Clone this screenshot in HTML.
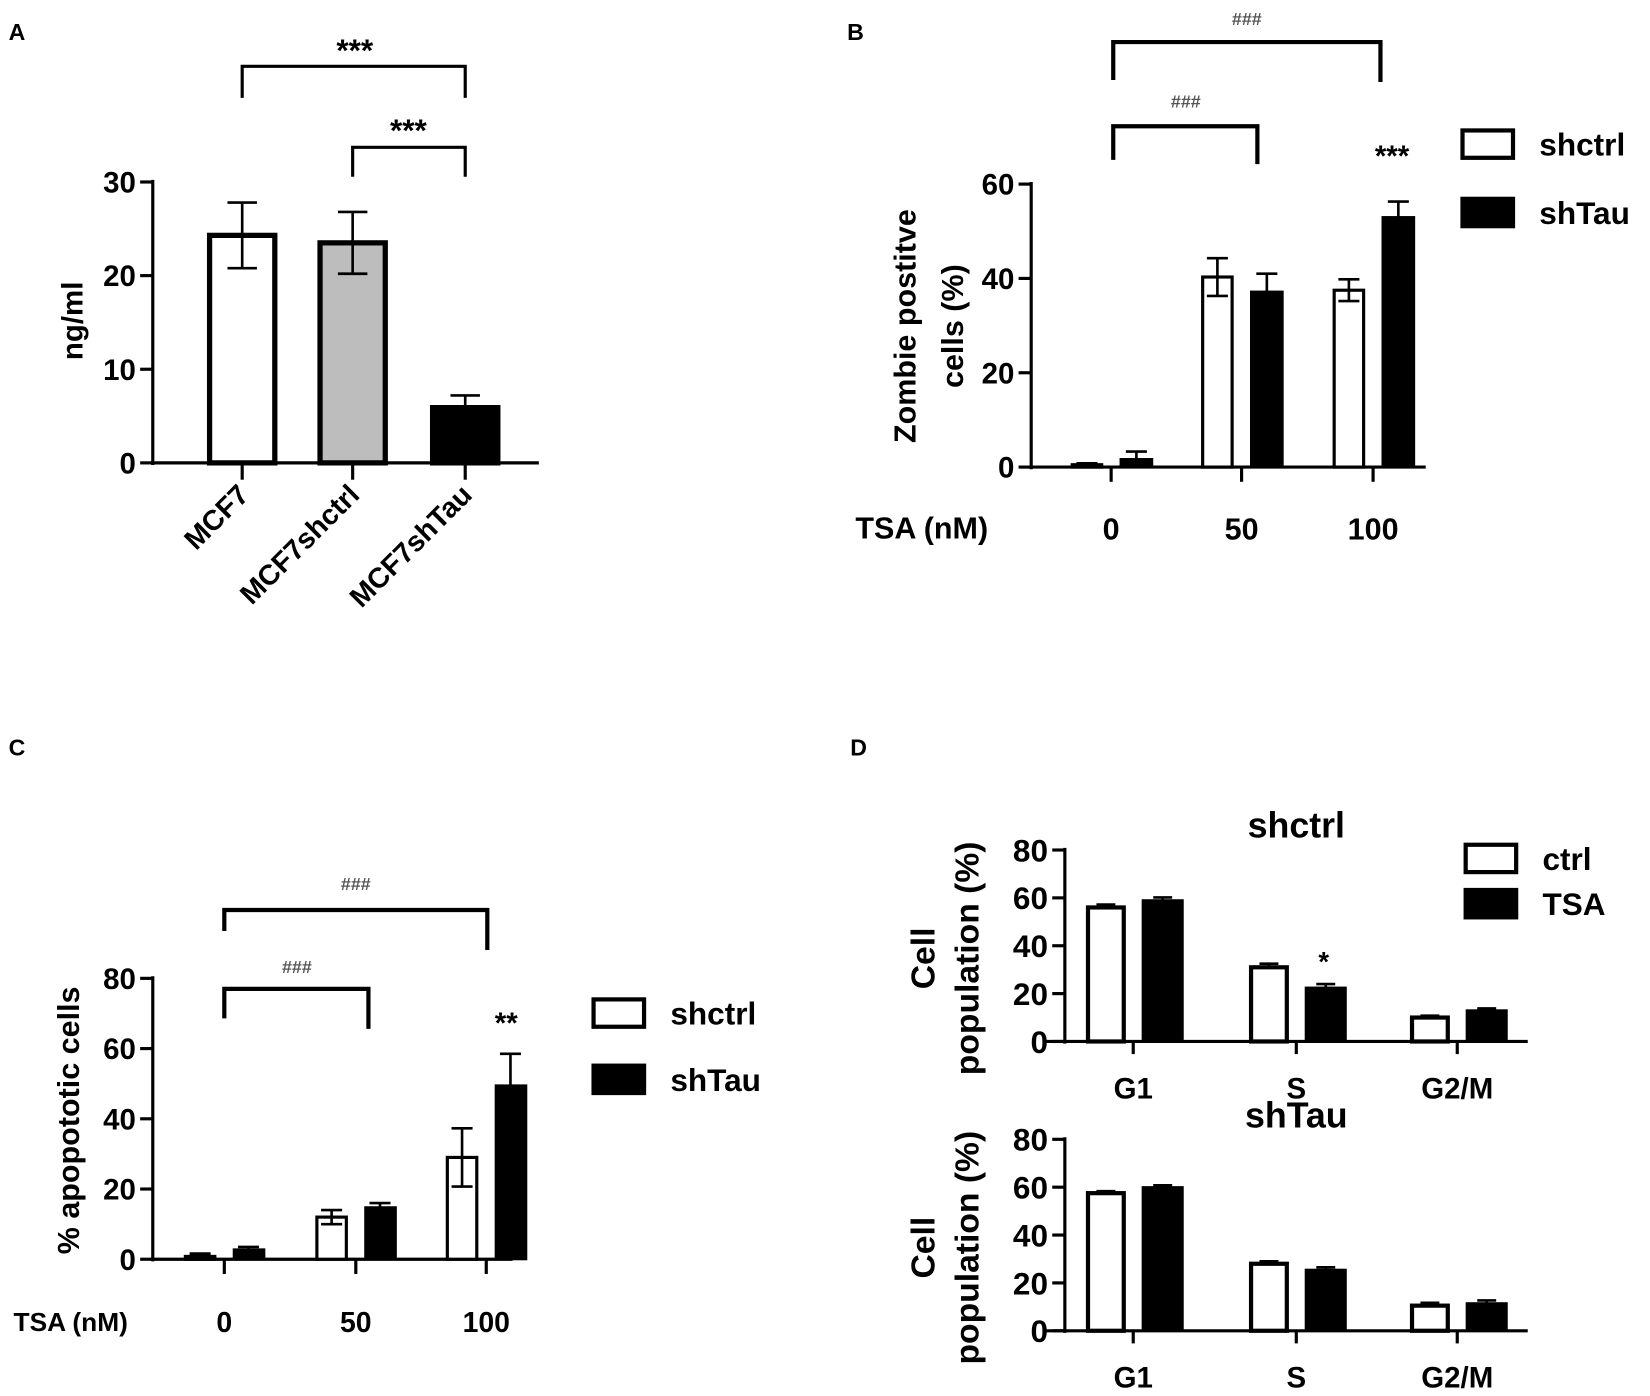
<!DOCTYPE html>
<html><head><meta charset="utf-8"><style>
html,body{margin:0;padding:0;background:#fff;}
svg{display:block;font-family:"Liberation Sans",Arial,sans-serif;font-weight:bold;}
</style></head><body>
<svg id="fig" width="1650" height="1396" viewBox="0 0 1568 1327" xmlns="http://www.w3.org/2000/svg">
<g font-size="22"><text x="8" y="38">A</text><text x="805" y="38">B</text><text x="8" y="718">C</text><text x="808" y="718">D</text></g>
</svg>
<script>
// Panel A
const aCats=['MCF7','MCF7shctrl','MCF7shTau'];
const aVals=[24.3,23.5,5.9];
const aErr=[3.5,3.3,1.3];
const aTicks=[0,10,20,30];
// Panel B
const bCats=['0','50','100'];
const bShctrl=[0.5,40.3,37.5];
const bShctrlErr=[0.3,4,2.3];
const bShTau=[1.7,37.2,53];
const bShTauErr=[1.6,3.8,3.3];
const bTicks=[0,20,40,60];
// Panel C
const cCats=['0','50','100'];
const cShctrl=[0.8,12,29];
const cShctrlErr=[0.8,2,8.3];
const cShTau=[2.8,14.8,49.5];
const cShTauErr=[0.7,1.2,9];
const cTicks=[0,20,40,60,80];
// Panel D
const dCats=['G1','S','G2/M'];
const dTopCtrl=[56,31,10];
const dTopTSA=[59,22.5,13];
const dTopErr=[1.2,1.5,0.8];
const dBotCtrl=[57.5,28,10.5];
const dBotTSA=[60,25.5,11.5];
const dBotErr=[0.8,1,1.2];
const dTicks=[0,20,40,60,80];

const NS='http://www.w3.org/2000/svg';
const svg=document.getElementById('fig');
function mk(tag,at,parent){const e=document.createElementNS(NS,tag);for(const k in at)e.setAttribute(k,at[k]);(parent||svg).appendChild(e);return e;}
function txt(x,y,s,size,anchor,name,extra){const t=mk('text',Object.assign({x:x,y:y,'font-size':size,'text-anchor':anchor||'middle'},extra||{}));t.textContent=s;


return t;}
function line(x1,y1,x2,y2,w,name){const l=mk('line',{x1,y1,x2,y2,stroke:'#000','stroke-width':w});


return l;}
function axes(x0,x1,y0,yTop,ticks,maxV,fs,prefix,tickXs,tickLen,xStart){
  const sy=v=>y0-(v/maxV)*(y0-yTop);
  line(x0,yTop-2,x0,y0+2,3,prefix+'-y-axis');
  line(xStart!==undefined?xStart:x0-2,y0,x1,y0,3,prefix+'-x-axis');
  ticks.forEach(t=>{line(x0-12,sy(t),x0,sy(t),3,prefix+'-y-tick');txt(x0-16,sy(t)+fs*0.36,String(t),fs,'end',prefix+'-y-tick-label');});
  tickXs.forEach(x=>line(x,y0,x,y0+tickLen,3,prefix+'-x-tick'));
  return sy;
}
function bar(x,w,v,sy,y0,fill,bw,name){const r=mk('rect',{x:x,y:sy(v),width:w,height:y0-sy(v),fill:fill,stroke:'#000','stroke-width':bw});

}
function err(cx,v,e,sy,cap,both,name){
  line(cx,sy(v+e),cx,both?sy(v-e):sy(v),2.5,name);
  line(cx-cap,sy(v+e),cx+cap,sy(v+e),2.5,name+'-cap');
  if(both)line(cx-cap,sy(v-e),cx+cap,sy(v-e),2.5,name+'-cap');
}
function bracket(x1,x2,y,l1,l2,w,name){const p=mk('path',{d:`M${x1},${y+l1} V${y} H${x2} V${y+l2}`,fill:'none',stroke:'#000','stroke-width':w});

}
function legendBox(x,y,fill,label,fs,name){const r=mk('rect',{x:x,y:y,width:48,height:26,fill:fill,stroke:'#000','stroke-width':4});


txt(x+73,y+24,label,fs,'start',name+'-label');}

// ---- Panel A
(function(){
  const y0=440,yTop=173,xs=[230,335,442];
  const sy=axes(145,512,y0,yTop,aTicks,30,28,'a',xs,16);
  const fills=['#fff','#bdbdbd','#000'];
  aCats.forEach((c,i)=>{bar(xs[i]-31,62,aVals[i],sy,y0,fills[i],5,'a-bar-'+c);err(xs[i],aVals[i],aErr[i],sy,14,i<2,'a-error-'+c);
    txt(xs[i]+8,472,c,27,'end','a-x-label-'+c,{transform:`rotate(-45 ${xs[i]+8} 472)`});});
  txt(78,305,'ng/ml',28,'middle','a-y-title',{transform:'rotate(-90 78 305)'});
  bracket(230,442,63,30,30,3,'a-bracket-1');txt(337,58,'***',30,'middle','a-sig-1');
  bracket(335,442,140,28,28,3,'a-bracket-2');txt(388,134,'***',30,'middle','a-sig-2');
})();

// ---- Panel B
(function(){
  const y0=444,yTop=175,xs=[1056,1180,1305];
  const sy=axes(980,1355,y0,yTop,bTicks,60,28,'b',xs,14);
  bCats.forEach((c,i)=>{
    bar(xs[i]-37,28,bShctrl[i],sy,y0,'#fff',3,'b-bar-shctrl-'+c);err(xs[i]-23,bShctrl[i],bShctrlErr[i],sy,10,i>0,'b-error-shctrl-'+c);
    bar(xs[i]+9,30,bShTau[i],sy,y0,'#000',2,'b-bar-shtau-'+c);err(xs[i]+24,bShTau[i],bShTauErr[i],sy,10,false,'b-error-shtau-'+c);
    txt(xs[i],513,c,29,'middle','b-x-label-'+c);});
  txt(876,512,'TSA (nM)',29,'middle','b-x-title');
  txt(870,310,'Zombie postitve',29,'middle','b-y-title-1',{transform:'rotate(-90 870 310)'});
  txt(915,310,'cells (%)',29,'middle','b-y-title-2',{transform:'rotate(-90 915 310)'});
  bracket(1058,1312,40,36,38,4,'b-bracket-1');txt(1185,24,'###',17,'middle','b-sig-1',{fill:'#555'});
  bracket(1058,1195,120,32,36,4,'b-bracket-2');txt(1127,102,'###',17,'middle','b-sig-2',{fill:'#555'});
  txt(1323,158,'***',28,'middle','b-sig-3');
  legendBox(1390,124,'#fff','shctrl',30,'b-legend-shctrl');legendBox(1390,189,'#000','shTau',30,'b-legend-shtau');
})();

// ---- Panel C
(function(){
  const y0=1197,yTop=930,xs=[213,338,462];
  const sy=axes(145,487,y0,yTop,cTicks,80,28,'c',xs,14);
  cCats.forEach((c,i)=>{
    bar(xs[i]-37,28,cShctrl[i],sy,y0,'#fff',3,'c-bar-shctrl-'+c);err(xs[i]-23,cShctrl[i],cShctrlErr[i],sy,10,i>0,'c-error-shctrl-'+c);
    bar(xs[i]+9,29,cShTau[i],sy,y0,'#000',2,'c-bar-shtau-'+c);err(xs[i]+23,cShTau[i],cShTauErr[i],sy,10,false,'c-error-shtau-'+c);
    txt(xs[i],1266,c,27,'middle','c-x-label-'+c);});
  txt(67,1265,'TSA (nM)',25,'middle','c-x-title');
  txt(75,1065,'% apopototic cells',29,'middle','c-y-title',{transform:'rotate(-90 75 1065)'});
  bracket(213,463,865,20,38,4,'c-bracket-1');txt(338,846,'###',17,'middle','c-sig-1',{fill:'#555'});
  bracket(213,350,940,28,38,4,'c-bracket-2');txt(282,925,'###',17,'middle','c-sig-2',{fill:'#555'});
  txt(481,982,'**',28,'middle','c-sig-3');
  legendBox(564,950,'#fff','shctrl',30,'c-legend-shctrl');legendBox(564,1013,'#000','shTau',30,'c-legend-shtau');
})();

// ---- Panel D
function dPanel(y0,yTop,ctrl,tsa,er,title,titleY,prefix){
  const xs=[1077,1232,1385];
  const sy=axes(1012,1452,y0,yTop,dTicks,80,30,prefix,xs,12,993);
  dCats.forEach((c,i)=>{
    bar(xs[i]-43,34,ctrl[i],sy,y0,'#fff',4,prefix+'-bar-ctrl-'+c);err(xs[i]-26,ctrl[i],er[i],sy,9,false,prefix+'-error-ctrl-'+c);
    bar(xs[i]+9,38,tsa[i],sy,y0,'#000',2,prefix+'-bar-tsa-'+c);err(xs[i]+28,tsa[i],er[i],sy,9,false,prefix+'-error-tsa-'+c);
    txt(xs[i],y0+54,c,28,'middle',prefix+'-x-label-'+c);});
  txt(1232,titleY,title,34,'middle',prefix+'-title');
  const cy=(y0+yTop)/2+12;
  txt(888,cy,'Cell',32,'middle',prefix+'-y-title-1',{transform:`rotate(-90 888 ${cy})`});
  txt(930,cy,'population (%)',32,'middle',prefix+'-y-title-2',{transform:`rotate(-90 930 ${cy})`});
}
dPanel(990,808,dTopCtrl,dTopTSA,dTopErr,'shctrl',796,'d-top');
txt(1258,923,'*',26,'middle','d-top-sig');
legendBox(1393,803,'#fff','ctrl',30,'d-legend-ctrl');legendBox(1393,846,'#000','TSA',30,'d-legend-tsa');
dPanel(1265,1083,dBotCtrl,dBotTSA,dBotErr,'shTau',1072,'d-bottom');
</script>
</body></html>
